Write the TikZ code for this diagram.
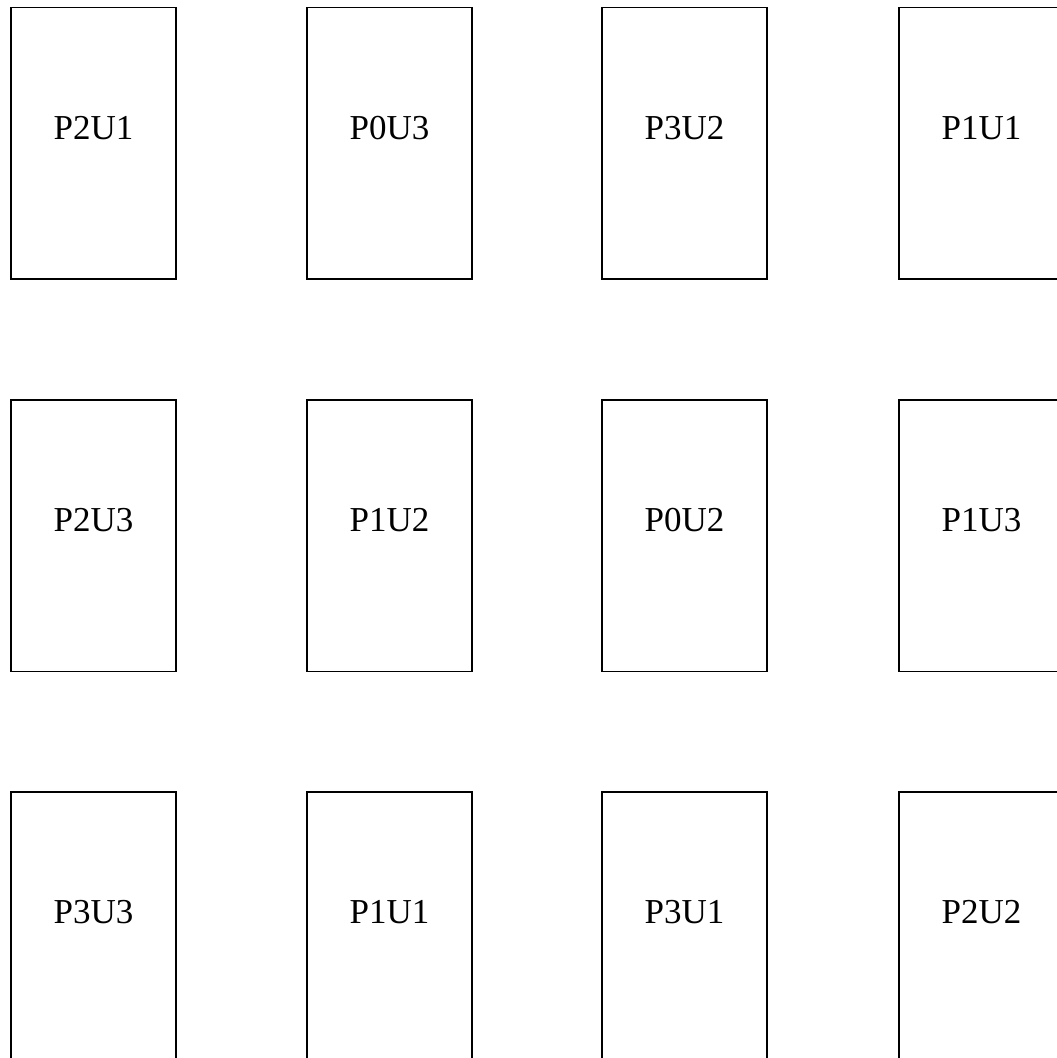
\documentclass[tikz,border=0pt]{standalone}
\usepackage{fontspec}
\setmainfont{Liberation Serif}
\begin{document}
\begin{tikzpicture}[x=1pt,y=1pt,
  cell/.style={draw=black,line width=1.6pt,minimum width=165pt,minimum height=271.5pt,inner sep=0pt},
  lbl/.style={anchor=base,inner sep=0pt,font=\fontsize{35}{42}\selectfont}]
\useasboundingbox (0,0) rectangle (1057,-1058);
\foreach \lab [count=\i from 0] in {P2U1,P0U3,P3U2,P1U1,P2U3,P1U2,P0U2,P1U3,P3U3,P1U1,P3U1,P2U2}{
  \pgfmathtruncatemacro{\c}{mod(\i,4)}
  \pgfmathtruncatemacro{\r}{div(\i,4)}
  \pgfmathsetmacro{\xl}{{11,307,602,899}[\c]}
  \pgfmathsetmacro{\yt}{{7.5,400,792}[\r]}
  \node[cell] (b\i) at (\xl+82.5,-\yt-135.75) {};
  \node[lbl] (t\i) at ([yshift=-132.5pt]b\i.north) {\lab};
}
\end{tikzpicture}
\end{document}
